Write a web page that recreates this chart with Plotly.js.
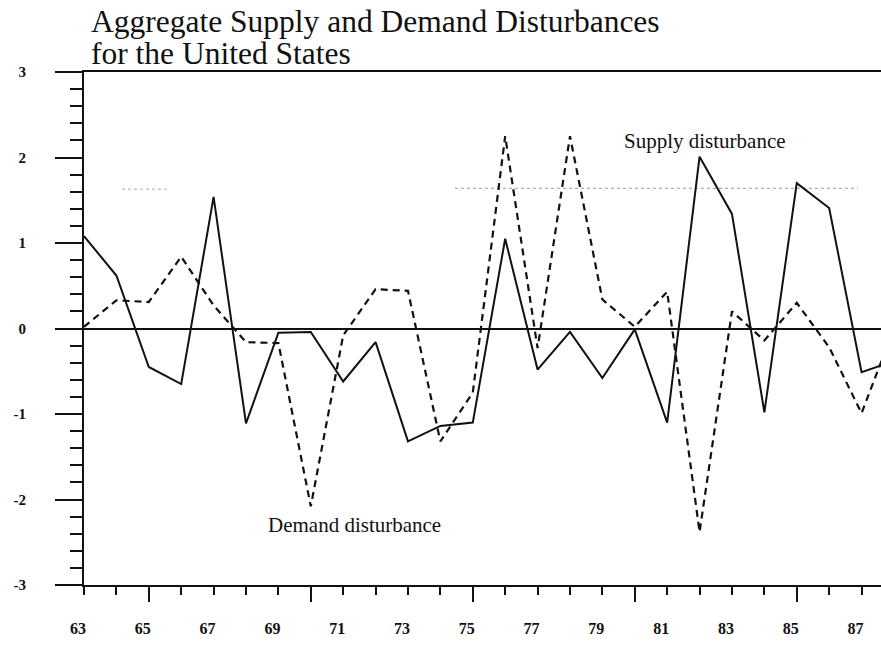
<!DOCTYPE html>
<html>
<head>
<meta charset="utf-8">
<script src="https://cdn.plot.ly/plotly-3.0.1.min.js"></script>
<style>
  html, body { margin: 0; padding: 0; background: #fff; }
  #chart { width: 881px; height: 646px; }
</style>
</head>
<body>
<div id="chart"></div>
<script>
// ---- data ----
const years = [63,64,65,66,67,68,69,70,71,72,73,74,75,76,77,78,79,80,81,82,83,84,85,86,87,88];
const supply = [1.08, 0.62, -0.45, -0.65, 1.54, -1.11, -0.05, -0.04, -0.62, -0.16, -1.32, -1.14, -1.10,
                1.05, -0.48, -0.04, -0.58, -0.01, -1.10, 2.01, 1.34, -0.98, 1.70, 1.41, -0.51, -0.38];
const demand = [0.02, 0.33, 0.31, 0.84, 0.27, -0.16, -0.17, -2.08, -0.08, 0.46, 0.44, -1.32, -0.75,
                2.25, -0.23, 2.25, 0.34, 0.02, 0.43, -2.38, 0.20, -0.14, 0.30, -0.22, -0.99, 0.00];
const xTickVals = [63,65,67,69,71,73,75,77,79,81,83,85,87];
const xTickText = ["63","65","67","69","71","73","75","77","79","81","83","85","87"];
const xLongTicks = [65,70,75,80,85];
const yTickVals = [-3,-2,-1,0,1,2,3];
const yTickText = ["-3","-2","-1","0","1","2","3"];
const titleLine1 = "Aggregate Supply and Demand Disturbances";
const titleLine2 = "for the United States";
const supplyLabel = "Supply disturbance";
const demandLabel = "Demand disturbance";

const serif = "Liberation Serif, Times New Roman, serif";
const ink = "#111";

const traces = [
  { x: years, y: supply, type: "scatter", mode: "lines", name: supplyLabel,
    line: { color: ink, width: 2 }, hoverinfo: "x+y" },
  { x: years, y: demand, type: "scatter", mode: "lines", name: demandLabel,
    line: { color: ink, width: 2.2, dash: "7px,5px" }, hoverinfo: "x+y" },
  { x: [63, 87.6], y: [null, null], xaxis: "x2", yaxis: "y", type: "scatter", mode: "lines",
    showlegend: false, hoverinfo: "skip" }
];

const L = 84, R = 0, T = 72, B = 61;
const W = 881, H = 646;
const pw = W - L - R, ph = H - T - B;
const px = v => (v - L) / pw;
const py = v => (H - B - v) / ph;

const layout = {
  width: W, height: H,
  margin: { l: L, r: R, t: T, b: B, pad: 0 },
  paper_bgcolor: "#fff", plot_bgcolor: "#fff",
  showlegend: false,
  font: { family: serif, color: ink },
  xaxis: {
    range: [63, 87.6], showgrid: false, zeroline: false,
    showline: true, linecolor: ink, linewidth: 2, mirror: true,
    tickmode: "array", tickvals: xTickVals, ticktext: xTickText,
    ticks: "outside", ticklen: 8, tickwidth: 2, tickcolor: ink,
    ticklabelstandoff: 20, ticklabelshift: -6,
    tickfont: { family: serif, size: 16, color: ink, weight: "bold" },
    minor: { dtick: 1, tick0: 63, ticks: "outside", ticklen: 8, tickwidth: 2, tickcolor: ink, showgrid: false }
  },
  xaxis2: {
    range: [63, 87.6], overlaying: "x", anchor: "y", side: "bottom",
    showgrid: false, zeroline: false, showline: false, showticklabels: false,
    tickmode: "array", tickvals: xLongTicks,
    ticks: "outside", ticklen: 16, tickwidth: 2, tickcolor: ink
  },
  yaxis: {
    range: [-3, 3], showgrid: false,
    zeroline: true, zerolinecolor: ink, zerolinewidth: 2,
    showline: true, linecolor: ink, linewidth: 2,
    tickmode: "array", tickvals: yTickVals, ticktext: yTickText,
    ticks: "outside", ticklen: 27, tickwidth: 2, tickcolor: ink,
    ticklabelstandoff: 26,
    tickfont: { family: serif, size: 15, color: ink, weight: "bold" },
    minor: { dtick: 0.2, tick0: 0, ticks: "outside", ticklen: 12, tickwidth: 2, tickcolor: ink, showgrid: false }
  },
  shapes: [
    { type: "line", xref: "paper", yref: "y", x0: px(455), x1: px(858), y0: 1.64, y1: 1.64,
      line: { color: "#999", width: 1, dash: "dot" }, layer: "below" },
    { type: "line", xref: "paper", yref: "y", x0: px(122), x1: px(168), y0: 1.63, y1: 1.63,
      line: { color: "#aaa", width: 1, dash: "dot" }, layer: "below" }
  ],
  annotations: [
    { text: titleLine1, xref: "paper", yref: "paper", x: px(89), y: py(22),
      xanchor: "left", yanchor: "middle", showarrow: false,
      font: { family: serif, size: 31.5, color: ink } },
    { text: titleLine2, xref: "paper", yref: "paper", x: px(89), y: py(54),
      xanchor: "left", yanchor: "middle", showarrow: false,
      font: { family: serif, size: 31.5, color: ink } },
    { text: supplyLabel, xref: "paper", yref: "paper", x: px(622), y: py(141),
      xanchor: "left", yanchor: "middle", showarrow: false,
      font: { family: serif, size: 21, color: ink } },
    { text: demandLabel, xref: "paper", yref: "paper", x: px(266), y: py(525),
      xanchor: "left", yanchor: "middle", showarrow: false,
      font: { family: serif, size: 21, color: ink } }
  ]
};

Plotly.newPlot("chart", traces, layout, { displayModeBar: false, staticPlot: true });
</script>
</body>
</html>
